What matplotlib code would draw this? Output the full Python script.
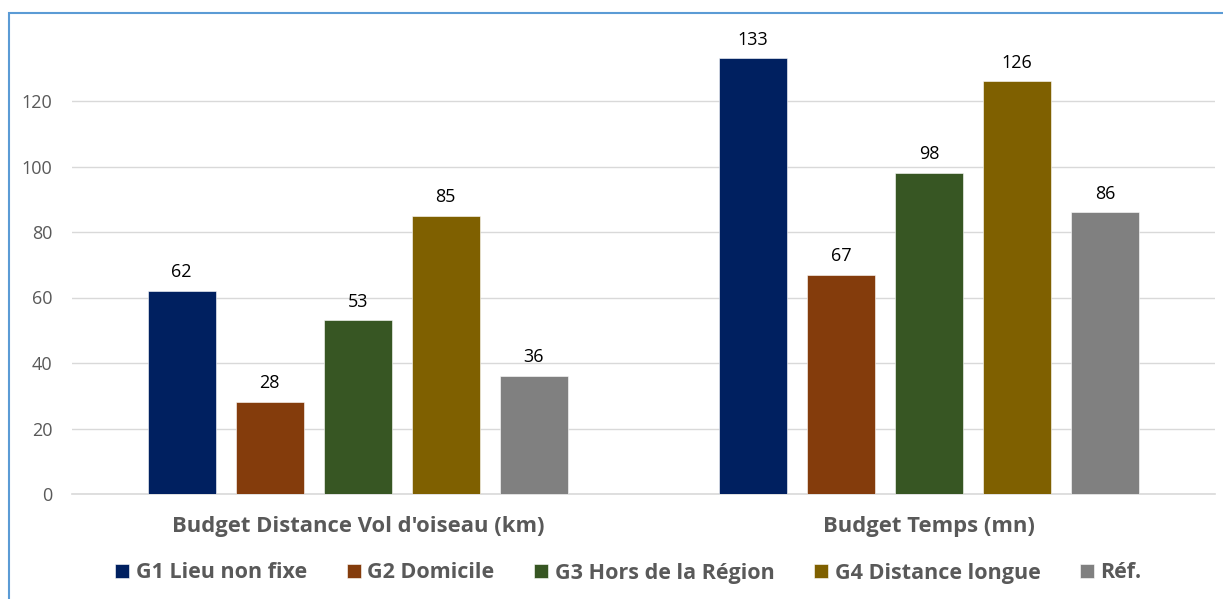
import matplotlib
matplotlib.use("Agg")
import matplotlib.pyplot as plt
from matplotlib.patches import Rectangle
import numpy as np

categories = ["Budget Distance Vol d'oiseau (km)", "Budget Temps (mn)"]
series = ["G1 Lieu non fixe", "G2 Domicile", "G3 Hors de la Région", "G4 Distance longue", "Réf."]
values = {
    "G1 Lieu non fixe": [62, 133],
    "G2 Domicile": [28, 67],
    "G3 Hors de la Région": [53, 98],
    "G4 Distance longue": [85, 126],
    "Réf.": [36, 86],
}
colors = ["#002060", "#843C0C", "#375623", "#7F6000", "#808080"]
yticks = [0, 20, 40, 60, 80, 100, 120]

plt.rcParams['font.family'] = ['Open Sans', 'DejaVu Sans']

W, H = 1223, 599
fig = plt.figure(figsize=(W / 100, H / 100), dpi=100)
ax = fig.add_axes([72 / W, 105 / H, (1215 - 72) / W, (563.5 - 105) / H])

x = np.arange(len(categories))
width = 0.119
step = 0.154
for i, s in enumerate(series):
    pos = x + (i - 2) * step
    bars = ax.bar(pos, values[s], width=width, color=colors[i], label=s,
                  edgecolor="white", linewidth=0.4, zorder=3)
    for b, v in zip(bars, values[s]):
        ax.text(b.get_x() + b.get_width() / 2, v + 3, f"{v}", ha="center", va="bottom",
                fontsize=13, color="#000000")

ax.set_xlim(-0.5, 1.5)
ax.set_ylim(0, 140)
ax.set_yticks(yticks)
ax.set_yticklabels([str(t) for t in yticks], fontsize=13, color="#595959")
ax.yaxis.grid(True, color="#D9D9D9", linewidth=1, zorder=0)
ax.set_xticks(x)
ax.set_xticklabels(categories, fontsize=15.8, fontweight="bold", color="#595959")
ax.tick_params(axis="both", length=0)
ax.tick_params(axis="x", pad=16)
ax.tick_params(axis="y", pad=14)
for sp in ["top", "right", "left"]:
    ax.spines[sp].set_visible(False)
ax.spines["bottom"].set_color("#D9D9D9")
ax.spines["bottom"].set_linewidth(1.2)

leg = fig.legend(loc="center", bbox_to_anchor=(628.5 / W, 1 - 573 / H), ncol=5, frameon=False,
                 handlelength=0.65, handleheight=0.65, handletextpad=0.3,
                 columnspacing=1.85, prop={"weight": "bold", "size": 15.5})
for t in leg.get_texts():
    t.set_color("#595959")

# chart border (blue)
fig.patches.append(Rectangle((9 / W, -0.1), 1.2, 1 - 13 / H + 0.1, transform=fig.transFigure,
                             fill=False, edgecolor="#5B9BD5", linewidth=1.5))

fig.savefig("out.png", dpi=100)
